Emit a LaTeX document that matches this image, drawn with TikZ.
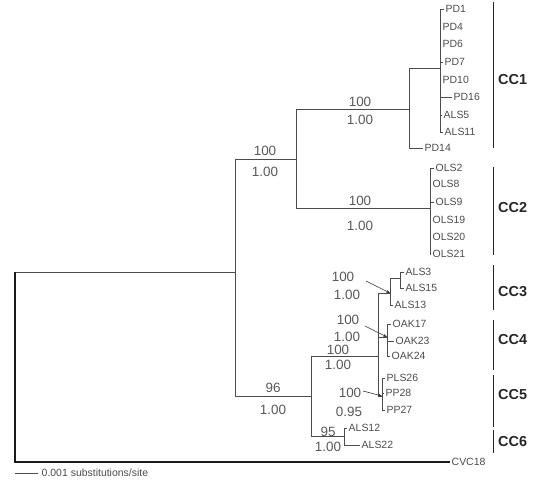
\documentclass[tikz,border=0pt]{standalone}
\usepackage{fontspec}
\setmainfont{Liberation Sans}
\usetikzlibrary{arrows.meta}
\begin{document}
\begin{tikzpicture}[x=1bp, y=-1bp,
  branch/.style={draw=black!70, line width=0.8bp},
  outgroup/.style={draw=black!90, line width=1.1bp},
  leaf/.style={anchor=west, inner sep=1.5bp, font=\fontsize{10.5}{11}\selectfont, text=black!70},
  support/.style={inner sep=0pt, font=\fontsize{13.5}{14}\selectfont, text=black!65},
  pointer/.style={-{Stealth[length=4bp,width=3bp]}, draw=black!80, line width=0.6bp},
  cladebar/.style={draw=black!85, line width=0.9bp},
  clade/.style={anchor=west, inner sep=0pt, font=\fontsize{14.5}{15}\bfseries\selectfont, text=black!85}
]
\useasboundingbox (0,0) rectangle (537,481);
\coordinate (r) at (15,272);
\coordinate (a) at (235,272);
\coordinate (b) at (296,159);
\coordinate (c) at (311,396);
\coordinate (d) at (409,109);
\coordinate (e) at (430,208);
\coordinate (f) at (440,68);
\coordinate (g) at (378,356);
\coordinate (h) at (344,436);
\coordinate (i) at (390,293);
\coordinate (j) at (387,337);
\coordinate (k) at (382,396);
\coordinate (m) at (400,278);
\draw[branch] (r) -- (a);
\draw[branch] (a) |- (b);
\draw[branch] (a) |- (c);
\draw[branch] (b) |- (d);
\draw[branch] (b) |- (e);
\draw[branch] (d) |- (f);
\draw[branch] (c) |- (g);
\draw[branch] (c) |- (h);
\draw[branch] (g) |- (i);
\draw[branch] (g) |- (j);
\draw[branch] (g) |- (k);
\draw[branch] (i) |- (m);
\foreach \n/\x/\y in {PD1/444/9, PD4/441/27, PD6/441/44, PD7/443/62, PD10/441/80, PD16/452/97, ALS5/442/115, ALS11/443/132}
  {\node[leaf] (\n) at (\x,\y) {\n}; \draw[branch] (f) |- (\n.west);}
\node[leaf] (PD14) at (423,148) {PD14};
\draw[branch] (d) |- (PD14.west);
\foreach \n/\x/\y in {OLS2/434/168, OLS8/431/184, OLS9/434/202, OLS19/431/220, OLS20/431/237, OLS21/431/254}
  {\node[leaf] (\n) at (\x,\y) {\n}; \draw[branch] (e) |- (\n.west);}
\foreach \n/\x/\y in {ALS3/404/272, ALS15/404/288}
  {\node[leaf] (\n) at (\x,\y) {\n}; \draw[branch] (m) |- (\n.west);}
\node[leaf] (ALS13) at (393,305) {ALS13};
\draw[branch] (i) |- (ALS13.west);
\foreach \n/\x/\y in {OAK17/391/324, OAK23/394/341, OAK24/390/356}
  {\node[leaf] (\n) at (\x,\y) {\n}; \draw[branch] (j) |- (\n.west);}
\foreach \n/\x/\y in {PLS26/385/378, PP28/384/393, PP27/385/410}
  {\node[leaf] (\n) at (\x,\y) {\n}; \draw[branch] (k) |- (\n.west);}
\foreach \n/\x/\y in {ALS12/347/428, ALS22/360/445}
  {\node[leaf] (\n) at (\x,\y) {\n}; \draw[branch] (h) |- (\n.west);}
\node[leaf] (CVC18) at (450,462) {CVC18};
\draw[outgroup] (r) |- (CVC18.west);
\node[support] (bs-b) at (265,151) {100};
\node[support] (pp-b) at (265,172) {1.00};
\node[support] (bs-d) at (360,102) {100};
\node[support] (pp-d) at (360,120) {1.00};
\node[support] (bs-e) at (360,201) {100};
\node[support] (pp-e) at (360,226) {1.00};
\node[support] (bs-c) at (273,388) {96};
\node[support] (pp-c) at (273,410) {1.00};
\node[support] (bs-g) at (338,350) {100};
\node[support] (pp-g) at (338,365) {1.00};
\node[support] (bs-h) at (328,432) {95};
\node[support] (pp-h) at (328,447) {1.00};
\node[support] (bs-i) at (343,277) {100};
\node[support] (pp-i) at (347,295) {1.00};
\node[support] (bs-j) at (348,320) {100};
\node[support] (pp-j) at (347,337) {1.00};
\node[support] (bs-k) at (350,393) {100};
\node[support] (pp-k) at (349,412) {0.95};
\coordinate (pi) at (366,281);
\coordinate (pj) at (365,326);
\coordinate (pk) at (363,391);
\draw[pointer] (pi) -- (i);
\draw[pointer] (pj) -- (j);
\draw[pointer] (pk) -- (k);
\foreach \cc/\ya/\yb/\yc in {CC1/2/148/80, CC2/167/255/208, CC3/265/310/292, CC4/320/370/340, CC5/375/427/395, CC6/430/453/442}
  {\coordinate (\cc top) at (493,\ya); \coordinate (\cc bot) at (493,\yb);
   \draw[cladebar] (\cc top) -- (\cc bot);
   \node[clade] (\cc) at (498,\yc) {\cc};}
\coordinate (sb0) at (15,473);
\coordinate (sb1) at (38,473);
\draw[branch] (sb0) -- (sb1);
\node[leaf, font=\fontsize{10.5}{11}\selectfont] (scale) at (40,473) {0.001 substitutions/site};
\end{tikzpicture}
\end{document}
